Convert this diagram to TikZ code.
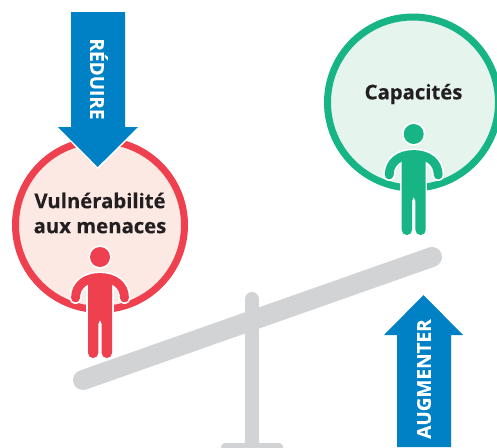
\documentclass[tikz,border=0pt]{standalone}
\usepackage{fontspec}
\setmainfont{Open Sans}[BoldFeatures={FakeBold=0.2}]
\definecolor{redring}{HTML}{EF4050}
\definecolor{redfill}{HTML}{FCE9E3}
\definecolor{greenring}{HTML}{17B585}
\definecolor{greenfill}{HTML}{E6F4EE}
\definecolor{arrowblue}{HTML}{0081C6}
\definecolor{beamgray}{HTML}{D1D3D4}
\definecolor{textdark}{HTML}{231F20}
\tikzset{
  ring/.style={line width=7pt},
  beam/.style={line width=20pt,beamgray,line cap=round},
  circlelabel/.style={font=\fontsize{20.3}{25}\selectfont\bfseries,textdark,align=center},
  arrowlabel/.style={font=\fontsize{19}{20}\selectfont\bfseries,white},
}
\newcommand{\personfig}[3]{
\begin{scope}[shift={(#1,#2)}]
\fill[white] (0,0) circle (11.7);
\draw[white,line width=12pt,line cap=round] (-24.5,41) .. controls (-24.5,28) and (-14,20.5) .. (0,20.5) .. controls (14,20.5) and (24.5,28) .. (24.5,41);
\fill[white] (-13.7,20) rectangle (13.7,92);
\fill[#3] (0,0) circle (10);
\draw[#3,line width=8.8pt,line cap=round] (-24.5,41) .. controls (-24.5,28) and (-14,20.5) .. (0,20.5) .. controls (14,20.5) and (24.5,28) .. (24.5,41);
\fill[#3,rounded corners=5pt] (-12,20) -- (12,20) -- (12,101) -- (1.7,101) -- (1.7,62) -- (-1.7,62) -- (-1.7,101) -- (-12,101) -- cycle;
\end{scope}
}
\begin{document}
\begin{tikzpicture}[x=1pt,y=-1pt]
\useasboundingbox (0,0) rectangle (497,447);
\draw[beam] (83,380) -- (432,257);
\draw[beam,line width=14pt] (252,299) -- (252,450);
\fill[beamgray,rounded corners=4pt] (221,443) rectangle (283,460);
\draw[ring,draw=redring,fill=redfill] (100,225) circle (84.5);
\draw[ring,draw=greenring,fill=greenfill] (413,102.5) circle (85.5);
\personfig{100}{257}{redring}
\personfig{413.7}{134}{greenring}
\draw[line width=3pt,white] (58,127) -- (97.7,167) -- (138,127);
\fill[arrowblue] (71,12) -- (125,12) -- (125,127) -- (138,127) -- (97.7,167) -- (58,127) -- (71,127) -- cycle;
\fill[arrowblue] (397,447) -- (397,335) -- (384,335) -- (423.5,295) -- (463,335) -- (451,335) -- (451,447) -- cycle;
\node[circlelabel] (vuln) at (100,213) {Vulnérabilité\\aux menaces};
\node[circlelabel] (capa) at (413.5,94) {Capacités};
\node[arrowlabel,rotate=-90] (reduire) at (99,79) {RÉDUIRE};
\node[arrowlabel,rotate=90] (augmenter) at (424,379) {AUGMENTER};
\end{tikzpicture}
\end{document}
